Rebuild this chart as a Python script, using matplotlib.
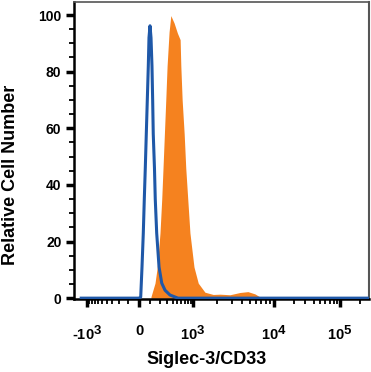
import matplotlib
matplotlib.use("Agg")
import matplotlib.pyplot as plt
import matplotlib._mathtext as mtext
import numpy as np

plt.rcParams['font.family'] = ['Liberation Sans', 'DejaVu Sans']
plt.rcParams['font.weight'] = 'bold'
plt.rcParams['mathtext.fontset'] = 'custom'
plt.rcParams['mathtext.rm'] = 'Liberation Sans:bold'
plt.rcParams['mathtext.bf'] = 'Liberation Sans:bold'
plt.rcParams['mathtext.default'] = 'bf'
mtext.SHRINK_FACTOR = 0.9  # big exponents, like the reference

# isotype control (blue outline)
iso_x = [-1300, 0, 14.6, 25.8, 37, 45.8, 54.6, 63.5, 72.6, 81.8, 88.2, 97.8, 107.4,
         116.9, 123.8, 129.8, 142.3, 150.8, 166.4, 193.5, 227.1, 272.1, 350.4, 513, 300000]
iso_y = [0, 0, 0.4, 11, 23, 35, 46, 58, 70, 82, 92, 96.2, 92,
         82, 70, 58, 46, 35, 23, 11, 5.3, 2.8, 1.1, 0, 0]

# Siglec-3/CD33 stained (orange fill)
cd33_x = [107, 148, 173, 205, 227, 244, 263, 283, 303, 335, 365, 427, 499, 565, 583,
          619, 678, 727, 794, 875, 1029, 1163, 1408, 1783, 2160, 2870, 3820, 4780,
          5830, 7110]
cd33_y = [0.5, 5.3, 11, 23, 35, 46, 58, 70, 82, 94, 99.8, 97.2, 93.6, 91.3, 82,
          70, 58, 46, 35, 23, 11, 5.3, 2.1, 1.3, 1.4, 1.2, 2.0, 2.3,
          1.5, 0]

# display scale anchors (value -> pixel column of the reference axis)
anchor_vals = [-1000, 0, 1000, 10000, 100000]
anchor_pos = [87, 139, 193, 274, 340]

xmajor = [-1000, 0, 1000, 10000, 100000]
xmajor_labels = [r'-$10^{3}$', '0', r'$10^{3}$', r'$10^{4}$', r'$10^{5}$']
xminor = ([-v for v in range(100, 1000, 100)] + list(range(100, 1000, 100))
          + list(range(2000, 10000, 1000)) + list(range(20000, 100000, 10000)) + [200000])

C = 200.0
T = np.arcsinh(np.array(anchor_vals) / C)
P = np.array(anchor_pos, dtype=float)
s_lo = (P[1] - P[0]) / (T[1] - T[0])
s_hi = (P[-1] - P[-2]) / (T[-1] - T[-2])
T_ext = np.concatenate([[T[0] - 20], T, [T[-1] + 20]])
P_ext = np.concatenate([[P[0] - 20 * s_lo], P, [P[-1] + 20 * s_hi]])


def fwd(x):
    x = np.asarray(x, dtype=float)
    return np.interp(np.arcsinh(x / C), T_ext, P_ext)


def inv(p):
    p = np.asarray(p, dtype=float)
    return C * np.sinh(np.interp(p, P_ext, T_ext))


fig = plt.figure(figsize=(3.71, 3.72), dpi=100)
ax = fig.add_axes([74 / 371, 1 - 299 / 372, 295 / 371, 297 / 372])
ax.set_xscale('function', functions=(fwd, inv))

ax.fill_between(cd33_x, cd33_y, 0, color='#f5821f', linewidth=0, zorder=2)
ax.plot(iso_x, iso_y, color='#1f58a8', linewidth=2.2, zorder=3,
        solid_joinstyle='round')

ax.set_xlim(inv(74), inv(369))
ax.set_ylim(-0.3, 104.6)

ax.set_xticks(xmajor)
ax.set_xticklabels(xmajor_labels)
ax.set_xticks(xminor, minor=True)
ax.set_yticks([0, 20, 40, 60, 80, 100])
ax.set_yticks([v for v in range(5, 100, 5) if v % 20], minor=True)

ax.tick_params(axis='both', which='major', length=6, width=2.5, color='black',
               labelsize=10, direction='out')
ax.tick_params(axis='both', which='minor', length=3.5, width=1.3, color='black',
               direction='out')
ax.tick_params(axis='x', which='major', pad=12, labelsize=10.5)
ax.tick_params(axis='y', which='major', pad=3)

for lab in ax.get_xticklabels() + ax.get_yticklabels():
    lab.set_fontweight('bold')

ax.spines['left'].set_linewidth(1.8)
ax.spines['bottom'].set_linewidth(1.8)
ax.spines['top'].set_color('#555555')
ax.spines['right'].set_color('#555555')
ax.spines['top'].set_linewidth(1.2)
ax.spines['right'].set_linewidth(1.5)

ax.set_xlabel('Siglec-3/CD33', fontsize=13, fontweight='bold')
ax.xaxis.set_label_coords((207 - 74) / 295, (299 - 360) / 297)
ax.xaxis.label.set_va('center')
ax.set_ylabel('Relative Cell Number', fontsize=13, fontweight='bold')
ax.yaxis.set_label_coords((11 - 74) / 295, (299 - 175) / 297)
ax.yaxis.label.set_va('center')

fig.savefig('out.png', dpi=100)
